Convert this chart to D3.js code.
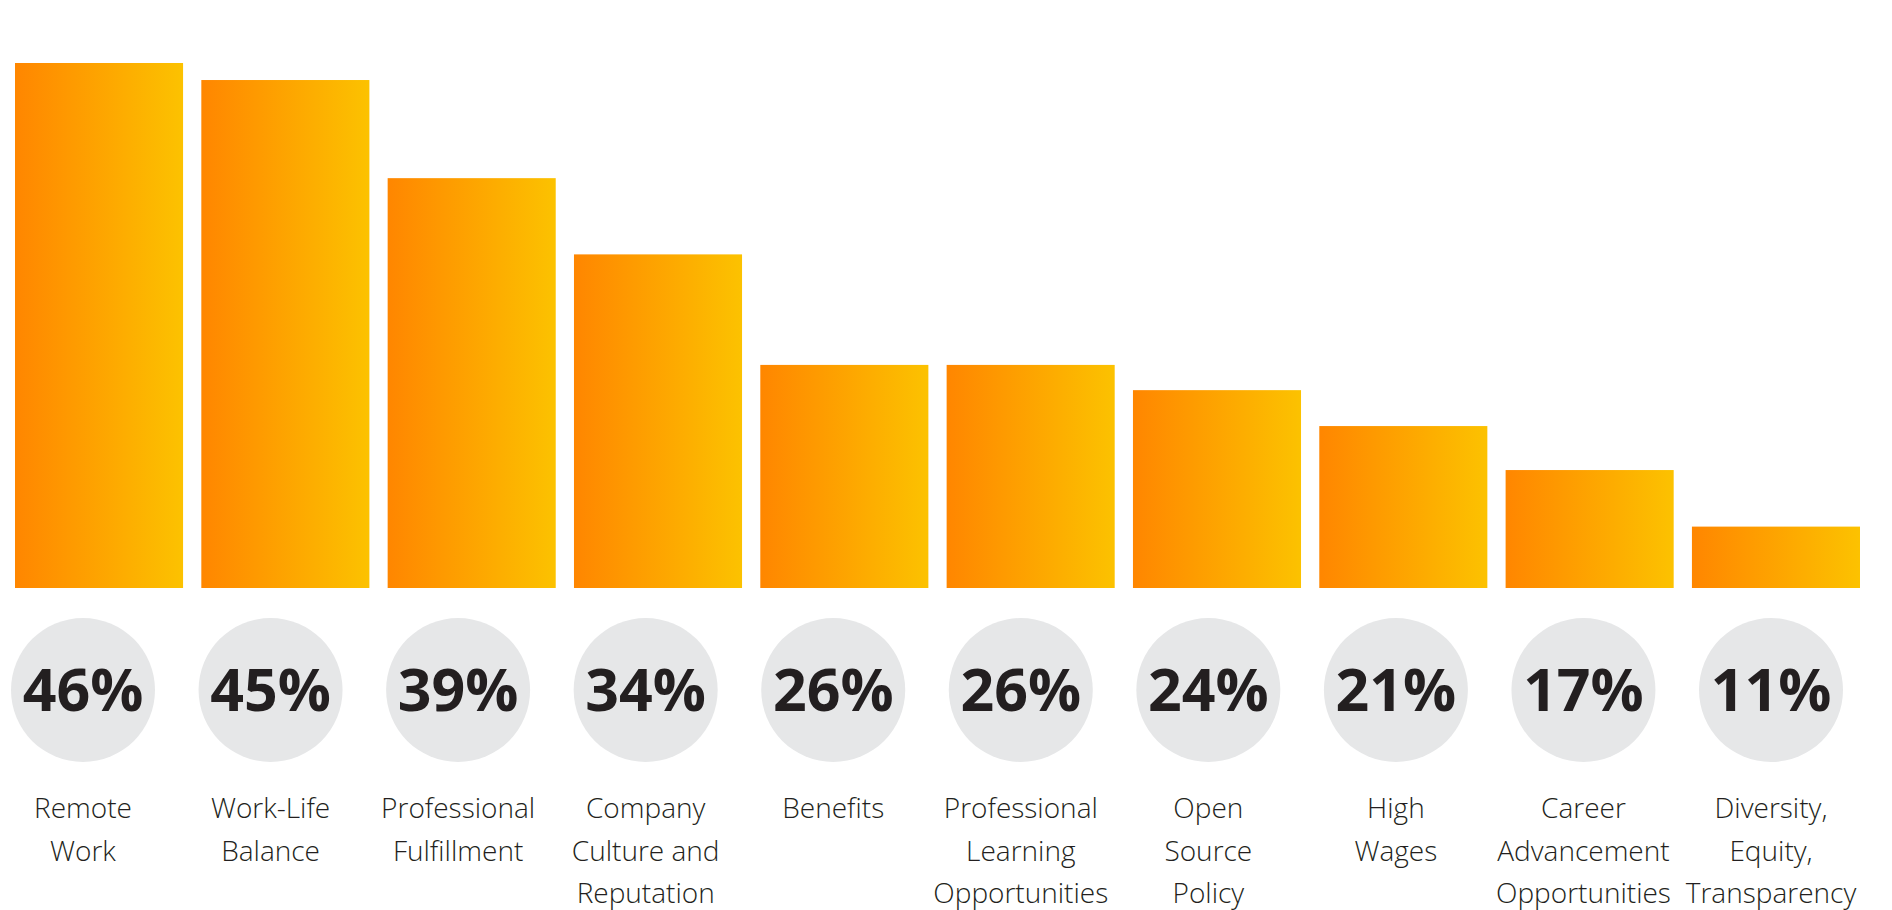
<!DOCTYPE html>
<html>
<head>
<meta charset="utf-8">
<script src="https://cdn.jsdelivr.net/npm/d3@7"></script>
<style>
  html, body { margin: 0; padding: 0; background: #ffffff; }
  svg { display: block; }
</style>
</head>
<body>
<svg id="chart" width="1892" height="910"></svg>
<script>
// Share of respondents naming each factor
const categories = [
  "Remote Work",
  "Work-Life Balance",
  "Professional Fulfillment",
  "Company Culture and Reputation",
  "Benefits",
  "Professional Learning Opportunities",
  "Open Source Policy",
  "High Wages",
  "Career Advancement Opportunities",
  "Diversity, Equity, Transparency"
];
const values = [46, 45, 39, 34, 26, 26, 24, 21, 17, 11];
// Category labels broken into display lines
const labelLines = [
  ["Remote", "Work"],
  ["Work-Life", "Balance"],
  ["Professional", "Fulfillment"],
  ["Company", "Culture and", "Reputation"],
  ["Benefits"],
  ["Professional", "Learning", "Opportunities"],
  ["Open", "Source", "Policy"],
  ["High", "Wages"],
  ["Career", "Advancement", "Opportunities"],
  ["Diversity,", "Equity,", "Transparency"]
];

const svg = d3.select("#chart");
const baseY = 588;

// Bars: band scale across the width, emphasised power scale for height
const x = d3.scaleBand()
  .domain(categories)
  .range([15, 1860])
  .paddingInner(0.098)
  .paddingOuter(0);

const y = d3.scalePow()
  .exponent(1.5)
  .domain([0, 46])
  .range([baseY, baseY - 525]);

// Badges and labels sit on their own evenly spaced row
const xLabel = d3.scalePoint()
  .domain(categories)
  .range([83, 1771]);

const defs = svg.append("defs");
const grad = defs.append("linearGradient")
  .attr("id", "barGrad")
  .attr("x1", "0%").attr("x2", "100%")
  .attr("y1", "0%").attr("y2", "0%");
grad.append("stop").attr("offset", "0%").attr("stop-color", "#ff8600");
grad.append("stop").attr("offset", "100%").attr("stop-color", "#fcc200");

svg.append("g")
  .selectAll("rect")
  .data(categories)
  .join("rect")
  .attr("x", d => x(d))
  .attr("width", x.bandwidth())
  .attr("y", (d, i) => y(values[i]))
  .attr("height", (d, i) => baseY - y(values[i]))
  .attr("fill", "url(#barGrad)");

// Percentage badges
const circleY = 690;
const badges = svg.append("g")
  .selectAll("g")
  .data(categories)
  .join("g")
  .attr("transform", d => `translate(${xLabel(d)},${circleY})`);

badges.append("circle")
  .attr("r", 72)
  .attr("fill", "#e6e7e8");

badges.append("text")
  .attr("text-anchor", "middle")
  .attr("dy", "0.36em")
  .attr("font-family", "'Open Sans', 'Noto Sans', sans-serif")
  .attr("font-weight", 700)
  .attr("font-size", 59)
  .attr("fill", "#231f20")
  .text((d, i) => values[i] + "%");

// Category labels
const labels = svg.append("g")
  .selectAll("text")
  .data(categories)
  .join("text")
  .attr("text-anchor", "middle")
  .attr("font-family", "'Open Sans', 'Noto Sans', sans-serif")
  .attr("font-weight", 300)
  .attr("font-size", 28)
  .attr("fill", "#231f20")
  .attr("transform", d => `translate(${xLabel(d)},818)`);

labels.selectAll("tspan")
  .data((d, i) => labelLines[i])
  .join("tspan")
  .attr("x", 0)
  .attr("y", (d, j) => j * 42.5)
  .text(d => d);
</script>
</body>
</html>
